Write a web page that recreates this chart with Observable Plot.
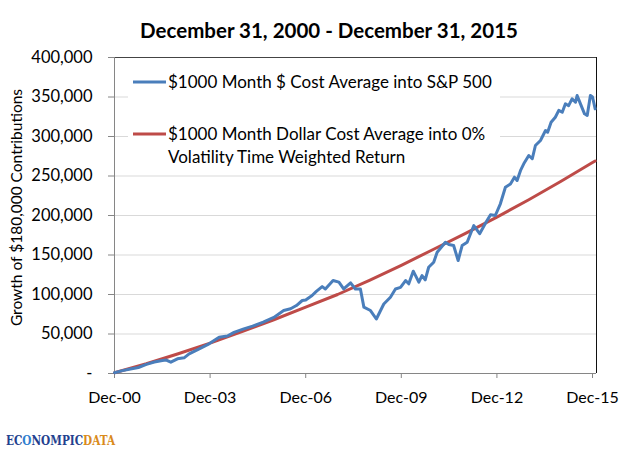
<!DOCTYPE html>
<html><head><meta charset="utf-8">
<script src="https://cdn.jsdelivr.net/npm/d3@7"></script>
<script src="https://cdn.jsdelivr.net/npm/@observablehq/plot@0.6"></script>
<style>
body{margin:0;background:#fff;font-family:Lato,sans-serif;}
#wrap{position:relative;width:640px;height:456px;overflow:hidden;}
#title{position:absolute;left:18px;top:16px;width:622px;text-align:center;font-weight:bold;font-size:20.5px;color:#000;line-height:28px;}
#chart{position:absolute;left:0;top:45px;}
#legend{position:absolute;left:128px;top:64px;}
#logo{position:absolute;left:6px;top:433px;white-space:nowrap;font-family:"DejaVu Serif",serif;font-weight:bold;font-size:12.5px;line-height:16px;transform:scaleX(0.84);transform-origin:0 0;}
</style></head>
<body><div id="wrap">
<div id="title">December 31, 2000 - December 31, 2015</div>
<div id="chart"></div>
<svg id="legend" width="372" height="106"></svg>
<div id="logo"></div>
</div>
<script>
// months since Dec-2000
const blueMonths = [0,3,6,9,12,15,18,19.5,21.2,23.7,26.2,28.1,31.9,35.6,39.4,42.5,45,48.7,52,56,60,63.7,66.3,68.5,70.7,72,74.4,76,78.2,79.4,82.3,84.5,86.3,88.9,90.7,92.6,93.9,96.4,98.6,101.4,103.9,105.8,107.7,109.6,110.8,112.5,114.6,115.8,117,118.3,120.2,121.5,124.6,125.9,127.7,129.4,130.9,132.8,135.3,137.5,140,141.6,143.4,145.3,147.2,149.1,150.6,151.6,152.9,154.1,156,157.3,158.5,160.4,162.3,163.1,164.4,166,167.3,168.6,169.8,171,172.3,173.6,174.2,175.5,177,178,179.2,180,181];
// $ thousands
const blueValues = [1,3.6,5.8,7.6,11.5,14.5,16.5,17,14.3,18.6,19.8,24.9,31.2,37.6,46,47.5,52,56.5,60,65,71,79.7,81.9,86,92.4,93,98.7,104,110,107,117.7,115.6,107,114.8,107,107,84,79.7,69,88,96.6,107,109,117.7,113.5,129.5,115.6,124,118.6,134.5,140.9,153.5,166.2,163.3,162,143,162,166.2,187.3,177,192,201,200,214.8,235.8,240,248.5,244.3,257,265.4,276,271.8,288.6,295,307.6,305.4,318,324.4,333,330.7,341.4,339,347.7,343.4,351.9,341,328.7,326.6,352,350,335];
const redMonths = [0,12,24,36,48,60,72,84,96,108,120,132,144,156,168,180,181];
const redValues = [1,12.3,25,38.5,53,68,84,100,118,137,157,177,198,220,243,267,269];

const xTickMonths = [0,36,72,108,144,180];
const xTickLabels = ["Dec-00","Dec-03","Dec-06","Dec-09","Dec-12","Dec-15"];
const yTicks = [0,50000,100000,150000,200000,250000,300000,350000,400000];
const yTickLabels = ["-","50,000","100,000","150,000","200,000","250,000","300,000","350,000","400,000"];
const yTitle = "Growth of $180,000 Contributions";

const seriesNames = ["$1000 Month $ Cost Average into S&P 500",
  "$1000 Month Dollar Cost Average into 0%", "Volatility Time Weighted Return"];
const blueColor = "#4A7EBB", redColor = "#BE4B48";

const blue = blueMonths.map((m,i)=>({m, v: blueValues[i]*1000}));
const red = redMonths.map((m,i)=>({m, v: redValues[i]*1000}));

const chart = Plot.plot({
  width: 640, height: 370,
  marginTop: 12, marginBottom: 42, marginLeft: 114, marginRight: 44,
  style: {fontFamily: "Lato, sans-serif", fontSize: "16px", color: "#000"},
  x: {domain: [0, 181.5]},
  y: {domain: [0, 400000]},
  marks: [
    Plot.gridY(yTicks, {stroke: "#d9d9d9", strokeOpacity: 1}),
    Plot.ruleY([400000], {stroke: "#444"}),
    Plot.ruleX([181.5], {stroke: "#111"}),
    Plot.ruleX([0], {stroke: "#868686"}),
    Plot.ruleY([0], {stroke: "#868686"}),
    Plot.axisY(yTicks, {tickSize: 6, tickPadding: 16, stroke: "#868686",
      tickFormat: (d)=> yTickLabels[yTicks.indexOf(d)], fontSize: 16.5, label: null}),
    Plot.text([yTitle], {frameAnchor: "left", rotate: -90, dx: -97, dy: -8,
      textAnchor: "middle", fontSize: 15.5, fill: "#000"}),
    Plot.axisX(xTickMonths, {tickSize: 5, tickPadding: 13, stroke: "#868686",
      tickFormat: (d)=> xTickLabels[xTickMonths.indexOf(d)], fontSize: 16, label: null}),
    Plot.line(red, {x: "m", y: "v", stroke: redColor, strokeWidth: 3}),
    Plot.line(blue, {x: "m", y: "v", stroke: blueColor, strokeWidth: 3}),
  ]
});
document.getElementById("chart").append(chart);

// legend
const lg = d3.select("#legend");
lg.append("rect").attr("width",372).attr("height",100).attr("fill","#fff");
lg.append("line").attr("x1",5).attr("x2",38).attr("y1",18).attr("y2",18).attr("stroke",blueColor).attr("stroke-width",3);
lg.append("line").attr("x1",5).attr("x2",38).attr("y1",70).attr("y2",70).attr("stroke",redColor).attr("stroke-width",3);
const tx = [[18,0],[70,1],[93,2]];
tx.forEach(([y,i])=> lg.append("text").attr("x",40).attr("y",y).attr("dy","0.35em")
  .attr("font-family","Lato, sans-serif").attr("font-size",17).attr("fill","#000").text(seriesNames[i]));

// logo
const logoParts = [["EC","#23408e"],["O","#2f7fd0"],["NOMPIC","#23408e"],["DATA","#d98a1c"]];
const logo = d3.select("#logo");
logoParts.forEach(([t,c])=> logo.append("span").style("color",c).text(t));
</script>
</body></html>
